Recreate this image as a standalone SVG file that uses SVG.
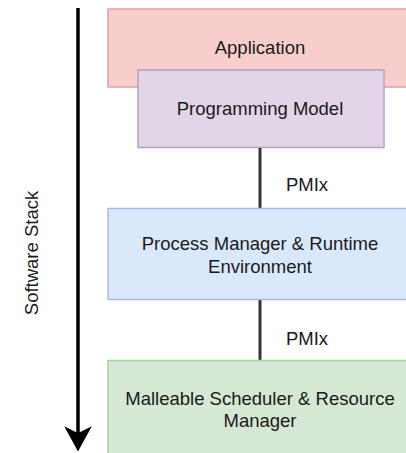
<svg xmlns="http://www.w3.org/2000/svg" width="406" height="453" viewBox="0 0 406 453">
  <style>
    .lbl { font-family: "Liberation Sans", Arial, sans-serif; font-size: 18.5px; fill: #1a1a1a; text-anchor: middle; }
    .box { stroke-width: 1.5; }
    .conn { stroke: #333333; stroke-width: 3; fill: none; }
  </style>
  <rect width="406" height="453" fill="#ffffff"/>

  <!-- stack direction arrow -->
  <g id="stack-arrow">
    <line x1="78" y1="8" x2="78" y2="436" stroke="#000" stroke-width="3.5"/>
    <path d="M78 450 L66 428 L78 434 L90 428 Z" fill="#000" stroke="#000" stroke-width="1.5" stroke-linejoin="miter"/>
    <text class="lbl" transform="translate(38 253) rotate(-90)">Software Stack</text>
  </g>

  <g id="application">
    <rect class="box" x="108" y="9" width="310" height="78" fill="#f8cecc" stroke="#e0a09e"/>
    <text class="lbl" x="260" y="54">Application</text>
  </g>

  <g id="programming-model">
    <rect class="box" x="138" y="70" width="246" height="77.5" fill="#e1d5e7" stroke="#b89fc5"/>
    <text class="lbl" x="260" y="115">Programming Model</text>
  </g>

  <g id="connectors">
    <line class="conn" x1="260" y1="148" x2="260" y2="208"/>
    <line class="conn" x1="260" y1="300" x2="260" y2="360"/>
    <text class="lbl" x="307" y="191">PMIx</text>
    <text class="lbl" x="307" y="345">PMIx</text>
  </g>

  <g id="process-manager">
    <rect class="box" x="108" y="208.5" width="310" height="91" fill="#dae8fc" stroke="#a3bde0"/>
    <text class="lbl" x="260" y="250">Process Manager &amp; Runtime</text>
    <text class="lbl" x="260" y="273">Environment</text>
  </g>

  <g id="scheduler">
    <rect class="box" x="108" y="360.5" width="310" height="100" fill="#d5e8d4" stroke="#a9cfa5"/>
    <text class="lbl" x="260" y="405">Malleable Scheduler &amp; Resource</text>
    <text class="lbl" x="260" y="427">Manager</text>
  </g>
</svg>
